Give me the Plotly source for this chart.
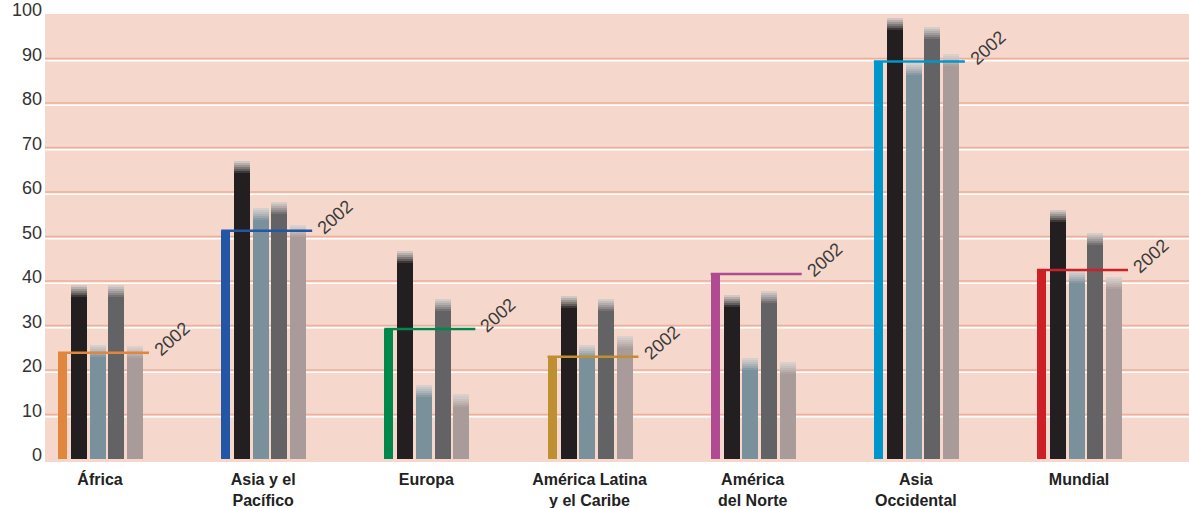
import plotly.graph_objects as go

# ---- data ----
categories = ["África", "Asia y el<br>Pacífico", "Europa", "América Latina<br>y el Caribe",
              "América<br>del Norte", "Asia<br>Occidental", "Mundial"]
values_2002 = [23.9, 51.3, 29.2, 23.0, 41.6, 89.3, 42.5]
series_a = [39.0, 66.9, 46.8, 36.7, 36.9, 99.1, 55.9]   # black
series_b = [25.7, 56.5, 16.7, 25.7, 22.8, 88.9, 42.2]   # blue-grey
series_c = [39.0, 57.7, 36.0, 36.0, 37.8, 97.1, 50.7]   # dark grey
series_d = [25.4, 52.5, 14.5, 27.7, 21.7, 91.0, 40.8]   # light grey
colors_2002 = ["#E0873D", "#2356A6", "#00884A", "#BF9032", "#B04A92", "#0096CB", "#CC1F26"]
y_ticks = [0, 10, 20, 30, 40, 50, 60, 70, 80, 90, 100]

# ---- layout constants ----
W, H = 1189, 508
ML, MR, MT, MB = 45, 0, 14, 46
G0, GSTEP = 58.0, 163.17
BAR_W, THIN_W = 16, 9
OFFS = [21, 39.7, 58.3, 77]
LINE_LEN = 91
FADE = 2.7
NSEG = 6
BG = "#F5D7CC"
LIGHT = (222, 212, 208)

def hex2rgb(h):
    h = h.lstrip("#")
    return tuple(int(h[i:i + 2], 16) for i in (0, 2, 4))

def mix(c1, c2, f):
    return "rgb(%d,%d,%d)" % tuple(round(a * (1 - f) + b * f) for a, b in zip(c1, c2))

starts = [G0 + i * GSTEP for i in range(len(categories))]

fig = go.Figure()

# 2002 thin bars
fig.add_trace(go.Bar(x=[s + THIN_W / 2 for s in starts], y=values_2002, width=THIN_W,
                     marker=dict(color=colors_2002, line=dict(width=0)), showlegend=False))

series = [(series_a, "#231F20"), (series_b, "#7A919C"), (series_c, "#636365"), (series_d, "#A89B99")]
for k, (vals, col) in enumerate(series):
    xs = [s + OFFS[k] for s in starts]
    rgb = hex2rgb(col)
    fig.add_trace(go.Bar(x=xs, y=[v - FADE for v in vals], width=BAR_W,
                         marker=dict(color=col, line=dict(width=0)), showlegend=False))
    seg = FADE / NSEG
    for j in range(NSEG):
        f = (j + 0.5) / NSEG
        fig.add_trace(go.Bar(x=xs, y=[seg] * len(vals), base=[v - FADE + j * seg for v in vals],
                             width=BAR_W, marker=dict(color=mix(rgb, LIGHT, f ** 0.8), line=dict(width=0)),
                             showlegend=False))

# 2002 horizontal lines + labels
for s, v, c in zip(starts, values_2002, colors_2002):
    fig.add_trace(go.Scatter(x=[s, s + LINE_LEN], y=[v, v], mode="lines",
                             line=dict(color=c, width=2.5), showlegend=False, hoverinfo="skip"))
    fig.add_annotation(x=s + LINE_LEN + 23, y=v + 3.1, text="2002", showarrow=False,
                       textangle=-42, font=dict(family="Liberation Sans", size=18, color="#3a3a3a"),
                       xanchor="center", yanchor="middle")

# double gridlines (salmon with white below), none at 0
for t in y_ticks[1:-1]:
    fig.add_shape(type="line", xref="paper", x0=0, x1=1, yref="y", y0=t, y1=t,
                  line=dict(color="#EBAF9A", width=1.5), layer="below")
    fig.add_shape(type="line", xref="paper", x0=0, x1=1, yref="y", y0=t - 0.5, y1=t - 0.5,
                  line=dict(color="white", width=1.5), layer="below")

fig.update_layout(
    width=W, height=H, margin=dict(l=ML, r=MR, t=MT, b=MB, autoexpand=False),
    paper_bgcolor="white", plot_bgcolor=BG, barmode="overlay", bargap=0,
    xaxis=dict(range=[ML, W - MR], tickvals=[s + 42 for s in starts], automargin=False,
               ticktext=["<b>%s</b>" % c for c in categories], showgrid=False, zeroline=False,
               ticks="", ticklabelstandoff=6,
               tickfont=dict(family="Liberation Sans", size=16, color="#222")),
    yaxis=dict(range=[-0.67, 100], tickvals=y_ticks, showgrid=False,
               zeroline=False, ticks="", ticklabelstandoff=2, ticklabelshift=-4, automargin=False,
               tickfont=dict(family="Liberation Sans", size=18, color="#333")),
)

fig.write_html("out.html", config={"displayModeBar": False},
               post_script="document.body.style.margin='0';document.body.style.overflow='hidden';")
